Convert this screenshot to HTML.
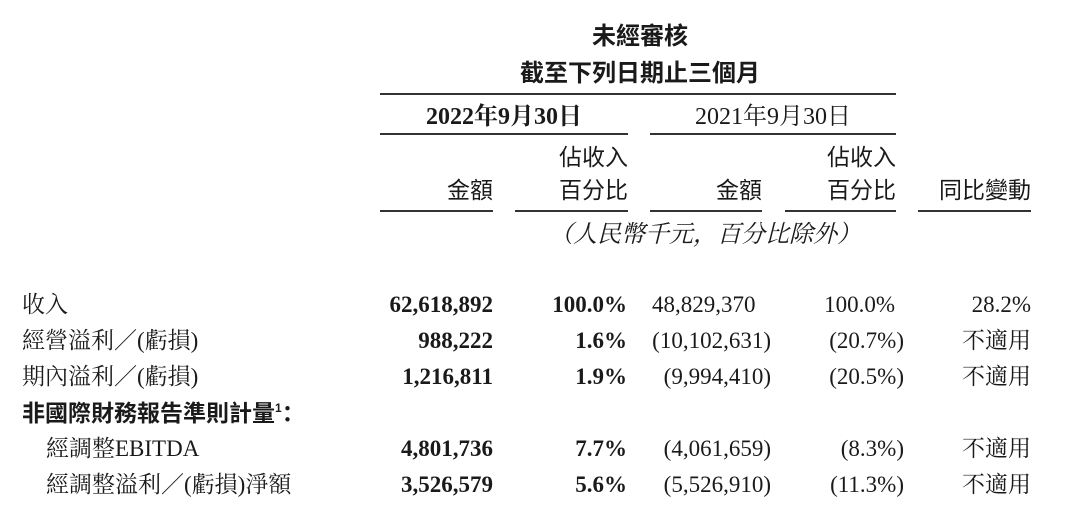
<!DOCTYPE html>
<html><head><meta charset="utf-8"><style>
body{margin:0;background:#fff;width:1080px;height:531px;position:relative;overflow:hidden;color:#1a1a1a;font-family:"Liberation Serif","Noto Serif CJK SC",serif;}
.t{position:absolute;font-size:23px;line-height:30px;white-space:nowrap;}
.r{text-align:right;}
.c{text-align:center;}
.b{font-weight:bold;}
.s{font-family:"Liberation Sans","Noto Sans CJK SC",sans-serif;font-size:23px;}
.l{position:absolute;height:1.5px;background:#333;}
sup{font-size:12px;line-height:0;vertical-align:9px;}
</style></head><body>
<div class="t c s b" style="left:440px;width:400px;top:22px;font-size:24px;">未經審核</div>
<div class="t c s b" style="left:440px;width:400px;top:59px;font-size:24px;">截至下列日期止三個月</div>
<div class="l" style="left:380px;width:516px;top:93px;"></div>
<div class="t c b" style="left:380px;width:248px;top:102px;font-size:24px;">2022年9月30日</div>
<div class="t c" style="left:650px;width:246px;top:102px;font-size:24px;">2021年9月30日</div>
<div class="l" style="left:380px;width:248px;top:133px;"></div>
<div class="l" style="left:650px;width:246px;top:133px;"></div>
<div class="t r s" style="left:500px;width:128px;top:142px;">佔收入</div>
<div class="t r s" style="left:500px;width:128px;top:175px;">百分比</div>
<div class="t r s" style="left:380px;width:113px;top:175px;">金額</div>
<div class="t r s" style="left:650px;width:112px;top:175px;">金額</div>
<div class="t r s" style="left:770px;width:126px;top:142px;">佔收入</div>
<div class="t r s" style="left:770px;width:126px;top:175px;">百分比</div>
<div class="t r s" style="left:900px;width:131px;top:175px;">同比變動</div>
<div class="l" style="left:380px;width:113px;top:210px;"></div>
<div class="l" style="left:515px;width:113px;top:210px;"></div>
<div class="l" style="left:650px;width:112px;top:210px;"></div>
<div class="l" style="left:785px;width:111px;top:210px;"></div>
<div class="l" style="left:918px;width:113px;top:210px;"></div>
<div class="t c" style="left:540px;width:330px;top:220px;font-style:italic;font-size:24px;">（人民幣千元，百分比除外）</div>

<div class="t" style="left:22px;top:290px;">收入</div>
<div class="t" style="left:22px;top:326px;">經營溢利／(虧損)</div>
<div class="t" style="left:22px;top:362px;">期內溢利／(虧損)</div>
<div class="t s b" style="left:22px;top:398px;">非國際財務報告準則計量<sup>1</sup>：</div>
<div class="t" style="left:46px;top:434px;">經調整EBITDA</div>
<div class="t" style="left:46px;top:470px;">經調整溢利／(虧損)淨額</div>

<div class="t r b" style="left:340px;width:153px;top:290px;">62,618,892</div>
<div class="t r b" style="left:340px;width:153px;top:326px;">988,222</div>
<div class="t r b" style="left:340px;width:153px;top:362px;">1,216,811</div>
<div class="t r b" style="left:340px;width:153px;top:434px;">4,801,736</div>
<div class="t r b" style="left:340px;width:153px;top:470px;">3,526,579</div>

<div class="t r b" style="left:500px;width:127px;top:290px;">100.0%</div>
<div class="t r b" style="left:500px;width:127px;top:326px;">1.6%</div>
<div class="t r b" style="left:500px;width:127px;top:362px;">1.9%</div>
<div class="t r b" style="left:500px;width:127px;top:434px;">7.7%</div>
<div class="t r b" style="left:500px;width:127px;top:470px;">5.6%</div>

<div class="t" style="left:652px;top:290px;">48,829,370</div>
<div class="t r" style="left:630px;width:141px;top:326px;">(10,102,631)</div>
<div class="t r" style="left:630px;width:141px;top:362px;">(9,994,410)</div>
<div class="t r" style="left:630px;width:141px;top:434px;">(4,061,659)</div>
<div class="t r" style="left:630px;width:141px;top:470px;">(5,526,910)</div>

<div class="t r" style="left:770px;width:125px;top:290px;">100.0%</div>
<div class="t r" style="left:770px;width:134px;top:326px;">(20.7%)</div>
<div class="t r" style="left:770px;width:134px;top:362px;">(20.5%)</div>
<div class="t r" style="left:770px;width:134px;top:434px;">(8.3%)</div>
<div class="t r" style="left:770px;width:134px;top:470px;">(11.3%)</div>

<div class="t r" style="left:900px;width:131px;top:290px;">28.2%</div>
<div class="t r" style="left:900px;width:131px;top:326px;">不適用</div>
<div class="t r" style="left:900px;width:131px;top:362px;">不適用</div>
<div class="t r" style="left:900px;width:131px;top:434px;">不適用</div>
<div class="t r" style="left:900px;width:131px;top:470px;">不適用</div>
</body></html>
